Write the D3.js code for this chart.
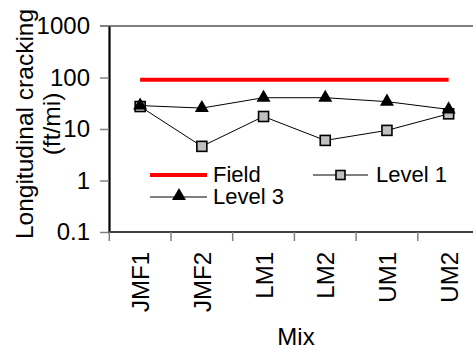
<!DOCTYPE html>
<html>
<head>
<meta charset="utf-8">
<script src="https://cdn.jsdelivr.net/npm/d3@7/dist/d3.min.js"></script>
<style>
  html, body { margin: 0; padding: 0; background: #fff; }
  svg { display: block; font-family: Arial, "Liberation Sans", sans-serif; }
</style>
</head>
<body>
<svg id="chart" width="473" height="349"></svg>
<script>
// Mixes and predicted / measured longitudinal cracking (ft/mi)
const mixes = ["JMF1", "JMF2", "LM1", "LM2", "UM1", "UM2"];
const field = [90, 90, 90, 90, 90, 90];
const level1 = [27.3, 4.6, 17.5, 6.0, 9.4, 19.7];
const level3 = [28.5, 25.5, 40.5, 40.5, 34, 24];
const yTicks = [0.1, 1, 10, 100, 1000];
const yTickLabels = ["0.1", "1", "10", "100", "1000"];

const svg = d3.select("#chart");

const x = d3.scaleBand().domain(mixes).range([109.3, 479.5]).padding(0);
const y = d3.scaleLog().domain([0.1, 1000]).range([232, 26]);
const cx = d => x(d) + x.bandwidth() / 2;

// top gridline at 1000
svg.append("line")
  .attr("x1", 100).attr("x2", 473)
  .attr("y1", y(1000)).attr("y2", y(1000))
  .attr("stroke", "#808080").attr("stroke-width", 2);

// Y axis
const yAxis = d3.axisLeft(y)
  .tickValues(yTicks)
  .tickFormat((d, i) => yTickLabels[i])
  .tickSizeInner(9).tickSizeOuter(0).tickPadding(10);
const gy = svg.append("g").attr("transform", "translate(109,0)").call(yAxis);
gy.select(".domain").attr("stroke", "#000").attr("stroke-width", 2.2);
gy.selectAll(".tick line").attr("stroke", "#808080").attr("stroke-width", 1.5);
gy.selectAll(".tick text")
  .attr("font-size", 24).attr("fill", "#000")
  .attr("font-family", "Arial, 'Liberation Sans', sans-serif");
gy.select(".tick:last-of-type line").remove();

// X axis with ticks at the band edges
const gx = svg.append("g").attr("transform", "translate(0,232)");
gx.append("line")
  .attr("x1", 108).attr("x2", 473).attr("y1", 0).attr("y2", 0)
  .attr("stroke", "#404040").attr("stroke-width", 2);
gx.selectAll("line.edge")
  .data(mixes)
  .join("line")
  .attr("class", "edge")
  .attr("x1", d => x(d)).attr("x2", d => x(d))
  .attr("y1", 0).attr("y2", 9)
  .attr("stroke", "#808080").attr("stroke-width", 1.5);
gx.selectAll("text")
  .data(mixes)
  .join("text")
  .attr("transform", d => `translate(${cx(d) + 9},20) rotate(-90)`)
  .attr("text-anchor", "end")
  .attr("font-size", 24)
  .attr("fill", "#000")
  .text(d => d);

// Axis titles
const ty = svg.append("text")
  .attr("transform", "translate(33,124) rotate(-90)")
  .attr("text-anchor", "middle")
  .attr("font-size", 24.5)
  .attr("fill", "#000");
ty.append("tspan").attr("x", 0).attr("dy", 0).text("Longitudinal cracking");
ty.append("tspan").attr("x", 0).attr("dy", 27).text("(ft/mi)");

svg.append("text")
  .attr("x", 296).attr("y", 345)
  .attr("text-anchor", "middle")
  .attr("font-size", 24)
  .attr("fill", "#000")
  .text("Mix");

// Series
const line = d3.line().x((d, i) => cx(mixes[i])).y(d => y(d));

svg.append("path")
  .datum(field)
  .attr("d", line)
  .attr("fill", "none")
  .attr("stroke", "#ff0000")
  .attr("stroke-width", 4);

svg.append("path")
  .datum(level1)
  .attr("d", line)
  .attr("fill", "none")
  .attr("stroke", "#000")
  .attr("stroke-width", 1);

svg.append("path")
  .datum(level3)
  .attr("d", line)
  .attr("fill", "none")
  .attr("stroke", "#000")
  .attr("stroke-width", 1);

const sq = 10;
svg.selectAll("rect.l1")
  .data(level1)
  .join("rect")
  .attr("class", "l1")
  .attr("x", (d, i) => cx(mixes[i]) - sq / 2)
  .attr("y", d => y(d) - sq / 2)
  .attr("width", sq).attr("height", sq)
  .attr("fill", "#c0c0c0")
  .attr("stroke", "#000")
  .attr("stroke-width", 1.6);

const tri = d3.symbol().type(d3.symbolTriangle).size(85);
svg.selectAll("path.l3")
  .data(level3)
  .join("path")
  .attr("class", "l3")
  .attr("transform", (d, i) => `translate(${cx(mixes[i])},${y(d)})`)
  .attr("d", tri)
  .attr("fill", "#000");

// Legend
const leg = svg.append("g").attr("font-size", 22).attr("fill", "#000");
leg.append("line")
  .attr("x1", 150).attr("x2", 207).attr("y1", 175).attr("y2", 175)
  .attr("stroke", "#ff0000").attr("stroke-width", 4);
leg.append("text").attr("x", 213).attr("y", 182).text("Field");

leg.append("line")
  .attr("x1", 313).attr("x2", 368).attr("y1", 175).attr("y2", 175)
  .attr("stroke", "#000").attr("stroke-width", 1);
leg.append("rect")
  .attr("x", 340.5 - 4.5).attr("y", 175 - 4.5)
  .attr("width", 9).attr("height", 9)
  .attr("fill", "#c0c0c0").attr("stroke", "#000").attr("stroke-width", 1.6);
leg.append("text").attr("x", 376).attr("y", 182).text("Level 1");

leg.append("line")
  .attr("x1", 150).attr("x2", 207).attr("y1", 197).attr("y2", 197)
  .attr("stroke", "#000").attr("stroke-width", 1);
leg.append("path")
  .attr("transform", "translate(179,196)")
  .attr("d", tri)
  .attr("fill", "#000");
leg.append("text").attr("x", 213).attr("y", 204).text("Level 3");
</script>
</body>
</html>
